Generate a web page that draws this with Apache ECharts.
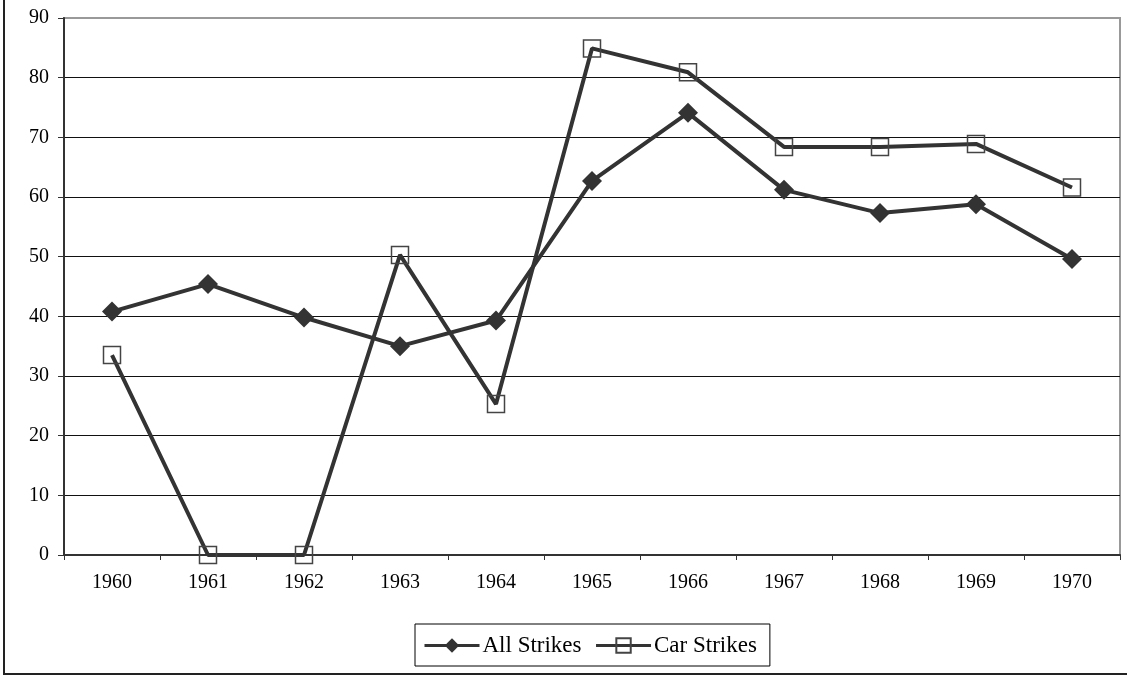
<!DOCTYPE html>
<html>
<head>
<meta charset="utf-8">
<script src="https://cdn.jsdelivr.net/npm/echarts@6/dist/echarts.min.js"></script>
<style>
html,body{margin:0;padding:0;background:#fff;}
#chart{width:1127px;height:675px;}
</style>
</head>
<body>
<div id="chart"></div>
<script>
const categories = ['1960','1961','1962','1963','1964','1965','1966','1967','1968','1969','1970'];
const allStrikes = [40.8, 45.4, 39.8, 35.0, 39.3, 62.7, 74.1, 61.2, 57.3, 58.8, 49.6];
const carStrikes = [33.5, 0, 0, 50.3, 25.3, 84.9, 80.9, 68.4, 68.4, 68.9, 61.6];
const yTicks = [0, 10, 20, 30, 40, 50, 60, 70, 80, 90];

const font = 'Liberation Serif';
const chart = echarts.init(document.getElementById('chart'));
const gridColors = yTicks.map((v, i) => i === yTicks.length - 1 ? '#999' : '#111');
chart.setOption({
  animation: false,
  backgroundColor: '#fff',
  graphic: [{
    type: 'rect',
    shape: { x: 4, y: -10, width: 1200, height: 684 },
    style: { fill: 'none', stroke: '#222', lineWidth: 2 },
    silent: true, z: -1
  }],
  grid: {
    left: 64, right: 7, top: 18, bottom: 120,
    show: true, borderColor: '#999', borderWidth: 2, backgroundColor: 'transparent'
  },
  legend: {
    left: 415, top: 624,
    padding: [10, 13, 9, 8],
    itemWidth: 55, itemHeight: 18, itemGap: 13,
    borderColor: '#000', borderWidth: 1,
    lineStyle: { width: 3, color: '#333' },
    textStyle: { fontFamily: font, fontSize: 23, color: '#000', padding: [0, 0, 0, -2] },
    data: ['All Strikes', 'Car Strikes']
  },
  xAxis: {
    type: 'category',
    data: categories,
    boundaryGap: true,
    axisLine: { show: true, lineStyle: { color: '#333', width: 2 } },
    axisTick: { show: true, length: 5, inside: false, lineStyle: { color: '#333', width: 1 } },
    axisLabel: { fontFamily: font, fontSize: 20, color: '#000', margin: 18 },
    splitLine: { show: false }
  },
  yAxis: {
    type: 'value',
    min: 0, max: 90, interval: 10,
    axisLine: { show: true, lineStyle: { color: '#333', width: 2 } },
    axisTick: { show: true, length: 6, lineStyle: { color: '#333', width: 1 } },
    axisLabel: { fontFamily: font, fontSize: 20, color: '#000', margin: 15 },
    splitLine: { show: true, lineStyle: { color: gridColors, width: 1 } }
  },
  series: [
    {
      name: 'All Strikes', type: 'line', data: allStrikes,
      symbol: 'diamond', symbolSize: 20, showAllSymbol: true,
      lineStyle: { color: '#333', width: 4 },
      itemStyle: { color: '#333', borderColor: '#333', borderWidth: 0 },
      z: 3
    },
    {
      name: 'Car Strikes', type: 'line', data: carStrikes,
      symbol: 'rect', symbolSize: 17, showAllSymbol: true,
      lineStyle: { color: '#333', width: 4 },
      itemStyle: { color: 'rgba(255,255,255,0)', borderColor: '#444', borderWidth: 1.5 },
      z: 4
    }
  ]
});
</script>
</body>
</html>
